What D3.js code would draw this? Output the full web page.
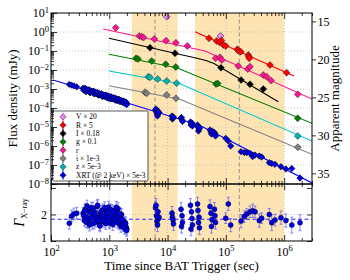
<!DOCTYPE html>
<html>
<head>
<meta charset="utf-8">
<script src="https://cdn.jsdelivr.net/npm/d3@7"></script>
<style>
  body { margin: 0; background: #fff; }
  svg { display: block; font-family: "Liberation Serif", "DejaVu Serif", serif; }
</style>
</head>
<body>
<div id="chart"></div>
<script>
// ---- optical photometry (time since trigger in s, scaled flux density in mJy) ----
const tV = [9660, 80700];
const fV = [6.4, 0.615];

const tR = [51300, 69500, 77100, 84000, 90200, 99300, 157000, 163000, 180000, 242000, 247000, 252000, 570000, 1.10e6];
const fR = [0.466, 0.336, 0.287, 0.357, 0.207, 0.183, 0.123, 0.104, 0.092, 0.0616, 0.05, 0.0413, 0.0183, 0.00721];

const tI = [4990, 13400, 82400, 182000, 259000, 438000];
const fI = [0.149, 0.0757, 0.0132, 0.00298, 0.00177, 0.001];

const tg = [2870, 3110, 5330, 9270, 13800, 67600, 72300, 1.71e6];
const fg = [0.0413, 0.0379, 0.0298, 0.020, 0.0144, 0.00183, 0.00195, 2.87e-5];

const tr = [1290, 3270, 3600, 3860, 5920, 9400, 13900, 21800, 66800, 79200, 84800, 163000, 237000, 259000, 438000, 501000, 594000, 1.71e6];
const fr = [1.68, 0.615, 0.566, 0.514, 0.428, 0.348, 0.273, 0.183, 0.0413, 0.0466, 0.0336, 0.0163, 0.0113, 0.0149, 0.00546, 0.00444, 0.0028, 5.26e-4];

const ti = [4090, 4380, 9660, 13900, 1.71e6];
const fi = [6.7e-4, 5.94e-4, 4.83e-4, 3.24e-4, 8.55e-7];

const tz = [4670, 4990, 6760, 9660, 14300, 1.71e6];
const fz = [0.00444, 0.00413, 0.00336, 0.00264, 0.002, 3.36e-6];

// ---- fitted light curves (knots of the broken power laws) ----
const fitTR = [29500, 1.47e6];           const fitFR = [1.04, 4.83e-3];
const fitTI = [988, 33200, 45600, 62500, 7.93e5];
const fitFI = [0.466, 0.0403, 0.0313, 0.0217, 2.15e-4];
const fitTg = [988, 14300, 3.0e6];       const fitFg = [0.067, 0.0131, 1.57e-5];
const fitTr = [789, 43800, 3.0e6];       const fitFr = [1.44, 0.1, 2.98e-4];
const fitTi = [988, 16300, 3.0e6];       const fitFi = [1.49e-3, 2.9e-4, 3.66e-7];
const fitTz = [988, 16300, 3.0e6];       const fitFz = [8.86e-3, 1.88e-3, 1.83e-6];
const fitTX = [109, 36000, 3.0e6];       const fitFX = [2.98e-3, 1.2e-5, 1.13e-8];

// ---- XRT: early window-timing data ----
const xrtTimeA = [206, 226, 248, 276,
  355, 372, 389, 407, 427, 447, 468, 490, 513, 537, 562, 589, 617, 646, 676, 708, 741, 776, 813, 851,
  891, 933, 977, 1023, 1072, 1122, 1175, 1230, 1288, 1349, 1413, 1479, 1549, 1622, 1698, 1778, 1862, 1950, 1995,
  363, 380, 398, 417, 437, 457, 479, 501, 525, 549, 575, 603, 631, 661, 692, 724, 758, 794, 832, 871,
  912, 955, 1000, 1047, 1096, 1148, 1202, 1259, 1318, 1380, 1445, 1514, 1585, 1660, 1738, 1820, 1905, 1980];
const xrtFluxA = [1.75e-3, 1.6e-3, 1.45e-3, 1.3e-3,
  1.10e-3, 8.7e-4, 1.07e-3, 7.6e-4, 8.5e-4, 8.9e-4, 6.4e-4, 7.7e-4, 6.6e-4, 7.8e-4, 5.7e-4, 6.2e-4, 6.5e-4, 4.8e-4, 5.6e-4, 4.8e-4, 5.5e-4, 4.1e-4, 4.7e-4, 4.6e-4,
  3.8e-4, 4.4e-4, 3.2e-4, 3.7e-4, 3.9e-4, 3.0e-4, 3.3e-4, 2.9e-4, 3.2e-4, 2.45e-4, 2.75e-4, 2.75e-4, 2.24e-4, 2.45e-4, 2.0e-4, 2.2e-4, 1.8e-4, 2.0e-4, 1.6e-4,
  8.7e-4, 1.05e-3, 7.4e-4, 8.9e-4, 7.6e-4, 8.9e-4, 6.5e-4, 7.4e-4, 7.6e-4, 5.6e-4, 6.8e-4, 5.5e-4, 6.5e-4, 4.9e-4, 5.4e-4, 5.5e-4, 4.1e-4, 4.9e-4, 4.1e-4, 4.8e-4,
  3.5e-4, 4.0e-4, 4.1e-4, 3.0e-4, 3.5e-4, 3.0e-4, 3.5e-4, 2.6e-4, 3.0e-4, 2.5e-4, 2.9e-4, 2.2e-4, 2.45e-4, 2.05e-4, 2.35e-4, 1.8e-4, 2.05e-4, 1.5e-4];
const xrtGammaA = [1.67, 1.94, 2.02, 2.05,
  2.05, 1.78, 2.20, 1.92, 1.70, 2.12, 1.85, 2.25, 1.66, 1.98, 2.08, 1.75, 2.30, 1.88, 1.62, 2.02, 1.95, 2.18, 1.72, 1.90,
  2.10, 1.80, 2.28, 1.68, 1.96, 2.15, 1.84, 1.74, 2.06, 1.93, 2.22, 1.64, 1.87, 2.00, 1.76, 1.58, 1.70, 1.52, 1.45,
  1.95, 2.15, 1.72, 2.32, 1.82, 1.60, 2.08, 1.90, 2.24, 1.68, 2.00, 1.86, 2.35, 1.76, 1.57, 2.12, 1.94, 1.80, 2.26, 1.66,
  2.04, 1.88, 1.73, 2.18, 1.98, 1.62, 2.10, 1.83, 2.27, 1.70, 1.92, 2.03, 1.55, 1.81, 1.60, 1.48, 1.66, 1.40];
const xrtGammaErrA = 0.22;

// ---- XRT: photon-counting data, grouped orbits ----
const xrtTimeB = [6200, 6320, 6450, 6580, 6710, 6840, 6980, 7120,
  11900, 12100, 12400, 12600, 17000, 17300, 17700, 18000,
  24700, 25200, 25700, 26200, 26700, 32600, 33200, 33900, 34600, 35200,
  53400, 55500, 56600, 57800, 63700, 65000, 66300];
const xrtFluxB = [7.85e-5, 8.86e-5, 6.15e-5, 4.83e-5, 3.79e-5, 6.95e-5, 5.14e-5, 5.79e-5,
  3.79e-5, 2.64e-5, 2.98e-5, 3.36e-5, 2.98e-5, 3.16e-5, 2.34e-5, 1.95e-5,
  1.83e-5, 1.27e-5, 1.44e-5, 1.62e-5, 1.13e-5, 1.27e-5, 1.0e-5, 6.15e-6, 7.85e-6, 8.86e-6,
  6.95e-6, 5.45e-6, 4.28e-6, 6.15e-6, 5.14e-6, 4.28e-6, 3.36e-6];
const xrtGammaB = [2.25, 2.35, 1.95, 1.75, 1.6, 2.1, 1.85, 1.9,
  2.05, 1.9, 1.8, 1.65, 2.2, 1.55, 1.95, 1.7,
  2.35, 1.45, 2.1, 1.85, 1.6, 2.4, 2.15, 1.7, 1.9, 1.5,
  2.3, 2.05, 1.55, 1.8, 2.2, 1.95, 1.7];
const xrtGammaErrB = 0.25;

// ---- XRT: late single points ----
const xrtTimeC = [99300, 110000, 121000, 182000, 207000, 228000, 259000, 288000, 316000, 374000, 411000, 555000, 611000, 695000, 881000, 1.07e6, 1.35e6, 1.87e6];
const xrtFluxC = [2.54e-6, 1.83e-6, 1.0e-6, 5.01e-7, 4.55e-7, 4.44e-7, 4.13e-7, 2.74e-7, 3.36e-7, 2.98e-7, 2.64e-7, 1.32e-7, 1.2e-7, 1.09e-7, 8.15e-8, 6.15e-8, 6.54e-8, 2.07e-8];
const xrtFluxErrC = [0.05, 0.06, 0.06, 0.06, 0.06, 0.06, 0.06, 0.07, 0.07, 0.07, 0.07, 0.08, 0.08, 0.08, 0.09, 0.09, 0.1, 0.18]; // dex
const xrtGammaC = [1.86, 2.40, 1.60, 1.75, 1.92, 2.02, 2.10, 2.14, 2.10, 1.77, 1.86, 2.00, 1.69, 1.79, 1.88, 1.77, 1.60, 1.69];
const xrtGammaErrC = [0.2, 0.25, 0.25, 0.25, 0.22, 0.2, 0.22, 0.25, 0.22, 0.25, 0.2, 0.22, 0.3, 0.22, 0.25, 0.25, 0.3, 0.3];

const gammaMean = 1.82;

// shaded observing windows and marked epochs
const bandStart = [2420, 29500];
const bandEnd = [14900, 1.0e6];
const markTimes = [6080, 1.7e5];

const legendLabels = ["V \u00d7 20", "R \u00d7 5", "I \u00d7 0.18", "g \u00d7 0.1", "r", "i \u00d7 1e-3", "z \u00d7 5e-3", "XRT (@ 2 keV) \u00d7 5e-3"];

// ---- layout ----
const W = 350, H = 280;
const L = 51, R = 312, T = 13, MID = 184, B = 241;

const svg = d3.select("#chart").append("svg").attr("width", W).attr("height", H);

const x = d3.scaleLog().domain([1e2, 3e6]).range([L, R]);
const yF = d3.scaleLog().domain([1e-8, 1e1]).range([MID, T]);
const toMag = f => -2.5 * Math.log10(f / 3.631e6);
const yM = d3.scaleLinear().domain([toMag(1e-8), toMag(1e1)]).range([MID, T]);
const yG = d3.scaleLinear().domain([1, 3.15]).range([B, MID]);

const defs = svg.append("defs");
defs.append("clipPath").attr("id", "clipTop").append("rect").attr("x", L).attr("y", T).attr("width", R - L).attr("height", MID - T);
defs.append("clipPath").attr("id", "clipBot").append("rect").attr("x", L).attr("y", MID).attr("width", R - L).attr("height", B - MID);

// shaded windows
svg.append("g").selectAll("rect").data(d3.zip(bandStart, bandEnd)).join("rect")
  .attr("x", d => x(d[0])).attr("width", d => x(d[1]) - x(d[0]))
  .attr("y", T).attr("height", B - T).attr("fill", "#ffe4b3");

// grids
const grid = svg.append("g").attr("stroke", "#b5b5b5").attr("stroke-width", 0.7).attr("stroke-dasharray", "1,2");
grid.selectAll(".gx").data([1e3, 1e4, 1e5, 1e6]).join("line")
  .attr("x1", d => x(d)).attr("x2", d => x(d)).attr("y1", T).attr("y2", B);
grid.selectAll(".gy").data(d3.range(-7, 1).map(e => Math.pow(10, e))).join("line")
  .attr("x1", L).attr("x2", R).attr("y1", d => yF(d)).attr("y2", d => yF(d));
grid.append("line").attr("x1", L).attr("x2", R).attr("y1", yG(2)).attr("y2", yG(2));

// marked epochs
svg.append("g").selectAll("line").data(markTimes).join("line")
  .attr("x1", d => x(d)).attr("x2", d => x(d)).attr("y1", T).attr("y2", B)
  .attr("stroke", "#8a8a8a").attr("stroke-width", 0.9).attr("stroke-dasharray", "4,2.5");

// ---- top panel ----
const topG = svg.append("g").attr("clip-path", "url(#clipTop)");
const line = d3.line().x(d => x(d[0])).y(d => yF(d[1]));

const diamondType = {
  draw(ctx, size) {
    const r = Math.sqrt(size / 2);
    ctx.moveTo(0, -r); ctx.lineTo(r, 0); ctx.lineTo(0, r); ctx.lineTo(-r, 0); ctx.closePath();
  }
};
const diamond = d3.symbol().type(diamondType).size(24)();
const diamondSmall = d3.symbol().type(diamondType).size(20)();

const optical = [
  { t: tV, f: fV, color: "#ee82ee", lineColor: null },
  { t: tg, f: fg, fitT: fitTg, fitF: fitFg, color: "#008000", lineColor: "#008000" },
  { t: tz, f: fz, fitT: fitTz, fitF: fitFz, color: "#00b3b3", lineColor: "#00c8c8" },
  { t: ti, f: fi, fitT: fitTi, fitF: fitFi, color: "#808080", lineColor: "#808080" },
  { t: tI, f: fI, fitT: fitTI, fitF: fitFI, color: "#000000", lineColor: "#000000" },
  { t: tr, f: fr, fitT: fitTr, fitF: fitFr, color: "#ff1493", lineColor: "#ff1493" },
  { t: tR, f: fR, fitT: fitTR, fitF: fitFR, color: "#ff0000", lineColor: "#ff0000" }
];

// fit lines
topG.append("path").datum(d3.zip(fitTX, fitFX)).attr("d", line)
  .attr("fill", "none").attr("stroke", "#0000ff").attr("stroke-width", 1.1);
optical.filter(s => s.fitT).forEach(s => {
  topG.append("path").datum(d3.zip(s.fitT, s.fitF)).attr("d", line)
    .attr("fill", "none").attr("stroke", s.lineColor).attr("stroke-width", 1.1);
});

// XRT flux points
const xrtFlux = topG.append("g");
const xrtAll = d3.zip(xrtTimeA, xrtFluxA).concat(d3.zip(xrtTimeB, xrtFluxB));
xrtFlux.selectAll(".eb").data(d3.zip(xrtTimeC, xrtFluxC, xrtFluxErrC)).join("line")
  .attr("x1", d => x(d[0])).attr("x2", d => x(d[0]))
  .attr("y1", d => yF(d[1] * Math.pow(10, d[2]))).attr("y2", d => yF(d[1] / Math.pow(10, d[2])))
  .attr("stroke", "#3a3aff").attr("stroke-width", 0.8);
xrtFlux.selectAll(".pt").data(xrtAll.concat(d3.zip(xrtTimeC, xrtFluxC))).join("path")
  .attr("d", diamondSmall)
  .attr("transform", d => `translate(${x(d[0])},${yF(d[1])})`)
  .attr("fill", "#0000e6").attr("stroke", "#00001a").attr("stroke-width", 0.6);

// optical points
optical.forEach(s => {
  topG.append("g").selectAll("path").data(d3.zip(s.t, s.f)).join("path")
    .attr("d", diamond)
    .attr("transform", d => `translate(${x(d[0])},${yF(d[1])})`)
    .attr("fill", s.color).attr("stroke", "#222").attr("stroke-width", 0.5);
});

// ---- bottom panel ----
const botG = svg.append("g").attr("clip-path", "url(#clipBot)");
botG.append("line").attr("x1", L).attr("x2", R).attr("y1", yG(gammaMean)).attr("y2", yG(gammaMean))
  .attr("stroke", "#2a2aff").attr("stroke-width", 1).attr("stroke-dasharray", "4,2.5");

const gammaPts = d3.zip(xrtTimeA, xrtGammaA).map(d => [d[0], d[1], xrtGammaErrA])
  .concat(d3.zip(xrtTimeB, xrtGammaB).map(d => [d[0], d[1], xrtGammaErrB]))
  .concat(d3.zip(xrtTimeC, xrtGammaC, xrtGammaErrC));

const eb = botG.append("g").attr("stroke", "#5050ff").attr("stroke-width", 0.8).attr("opacity", 0.85);
eb.selectAll(".v").data(gammaPts).join("line")
  .attr("x1", d => x(d[0])).attr("x2", d => x(d[0]))
  .attr("y1", d => yG(d[1] - d[2])).attr("y2", d => yG(d[1] + d[2]));
eb.selectAll(".c1").data(gammaPts).join("line")
  .attr("x1", d => x(d[0]) - 1.5).attr("x2", d => x(d[0]) + 1.5)
  .attr("y1", d => yG(d[1] + d[2])).attr("y2", d => yG(d[1] + d[2]));
eb.selectAll(".c2").data(gammaPts).join("line")
  .attr("x1", d => x(d[0]) - 1.5).attr("x2", d => x(d[0]) + 1.5)
  .attr("y1", d => yG(d[1] - d[2])).attr("y2", d => yG(d[1] - d[2]));

botG.append("g").selectAll("circle").data(gammaPts).join("circle")
  .attr("cx", d => x(d[0])).attr("cy", d => yG(d[1])).attr("r", 2.5)
  .attr("fill", "#0000e6").attr("stroke", "#00002a").attr("stroke-width", 0.5);

// ---- legend ----
const legColors = ["#ee82ee", "#ff0000", "#000000", "#008000", "#ff1493", "#808080", "#00b3b3", "#0000f0"];
const leg = svg.append("g");
leg.append("rect").attr("x", 52.5).attr("y", 111).attr("width", 95.5).attr("height", 70)
  .attr("fill", "#fff").attr("stroke", "#111").attr("stroke-width", 0.7).attr("rx", 1);
const legY = d3.scalePoint().domain(legendLabels).range([116.8, 175.2]);
const items = leg.selectAll(".it").data(legendLabels).join("g")
  .attr("transform", d => `translate(63,${legY(d)})`);
items.append("line").attr("y1", -4.6).attr("y2", 4.6)
  .attr("stroke", (d, i) => legColors[i]).attr("stroke-width", 0.9);
items.append("path").attr("d", diamondSmall)
  .attr("fill", (d, i) => legColors[i]).attr("stroke", "#222").attr("stroke-width", 0.5);
items.append("text").attr("x", 13).attr("dy", "0.33em").attr("font-size", 7.5).text(d => d);

// ---- axes ----
function styleAxis(g) {
  g.attr("font-family", null).attr("font-size", 12);
  g.select(".domain").remove();
  g.selectAll(".tick line").attr("stroke", "#000").attr("stroke-width", 0.8);
}
function powLabels(g) {
  g.selectAll(".tick text").each(function (d) {
    const e = Math.round(Math.log10(d));
    const t = d3.select(this).text(null);
    t.append("tspan").text("10");
    t.append("tspan").attr("dy", "-0.5em").attr("font-size", 8.5).text(e < 0 ? "\u2212" + (-e) : e);
  });
}
const decF = d3.range(-8, 2).map(e => Math.pow(10, e));
const minorF = [];
for (let e = -8; e < 1; e++) for (let k = 2; k < 10; k++) minorF.push(k * Math.pow(10, e));
const decX = [1e2, 1e3, 1e4, 1e5, 1e6];
const minorX = [];
for (let e = 2; e < 7; e++) for (let k = 2; k < 10; k++) { const v = k * Math.pow(10, e); if (v <= 3e6) minorX.push(v); }

// flux axis (left)
svg.append("g").attr("transform", `translate(${L},0)`)
  .call(d3.axisLeft(yF).tickValues(decF).tickSizeInner(-6).tickSizeOuter(0).tickPadding(2).tickFormat(""))
  .call(styleAxis).call(powLabels);
svg.append("g").attr("transform", `translate(${L},0)`)
  .call(d3.axisLeft(yF).tickValues(minorF).tickSizeInner(-3).tickSizeOuter(0).tickFormat(""))
  .call(styleAxis);

// magnitude axis (right)
svg.append("g").attr("transform", `translate(${R},0)`)
  .call(d3.axisRight(yM).tickValues([15, 20, 25, 30, 35]).tickSizeInner(4).tickSizeOuter(0).tickPadding(1.5))
  .call(styleAxis);

// time axes on every horizontal edge
[[T, d3.axisTop], [MID, d3.axisBottom], [MID, d3.axisTop], [B, d3.axisBottom]].forEach(([yy, ax], i) => {
  svg.append("g").attr("transform", `translate(0,${yy})`)
    .call(ax(x).tickValues(decX).tickSizeInner(-6).tickSizeOuter(0).tickPadding(6).tickFormat(""))
    .call(styleAxis)
    .call(g => { if (i === 3) powLabels(g); else g.selectAll(".tick text").remove(); });
  svg.append("g").attr("transform", `translate(0,${yy})`)
    .call(ax(x).tickValues(minorX).tickSizeInner(-3).tickSizeOuter(0).tickFormat(""))
    .call(styleAxis);
});

// photon index axes
svg.append("g").attr("transform", `translate(${L},0)`)
  .call(d3.axisLeft(yG).tickValues([1, 2, 3]).tickSizeInner(-5).tickSizeOuter(0).tickPadding(4)
    .tickFormat(d => d === 3 ? "" : d))
  .call(styleAxis)
  .call(g => g.selectAll(".tick text").filter(d => d === 1).attr("y", -3));
svg.append("g").attr("transform", `translate(${R},0)`)
  .call(d3.axisRight(yG).tickValues([1, 2, 3]).tickSizeInner(-5).tickSizeOuter(0).tickFormat(""))
  .call(styleAxis);

// frames
svg.append("rect").attr("x", L).attr("y", T).attr("width", R - L).attr("height", MID - T)
  .attr("fill", "none").attr("stroke", "#000").attr("stroke-width", 1);
svg.append("rect").attr("x", L).attr("y", MID).attr("width", R - L).attr("height", B - MID)
  .attr("fill", "none").attr("stroke", "#000").attr("stroke-width", 1);

// axis titles
svg.append("text").attr("transform", `translate(17,${(T + MID) / 2}) rotate(-90)`)
  .attr("text-anchor", "middle").attr("font-size", 13).text("Flux density (mJy)");
svg.append("text").attr("transform", `translate(339,${(T + MID) / 2}) rotate(-90)`)
  .attr("text-anchor", "middle").attr("font-size", 13).text("Apparent magnitude");
svg.append("text").attr("x", (L + R) / 2).attr("y", 270)
  .attr("text-anchor", "middle").attr("font-size", 13).text("Time since BAT Trigger (sec)");
const gl = svg.append("text").attr("transform", `translate(24,${(MID + B) / 2}) rotate(-90)`)
  .attr("text-anchor", "middle");
gl.append("tspan").attr("font-size", 14).attr("font-style", "italic").text("\u0393");
gl.append("tspan").attr("font-size", 8).attr("dy", 3).text("X\u2212ray");
</script>
</body>
</html>
